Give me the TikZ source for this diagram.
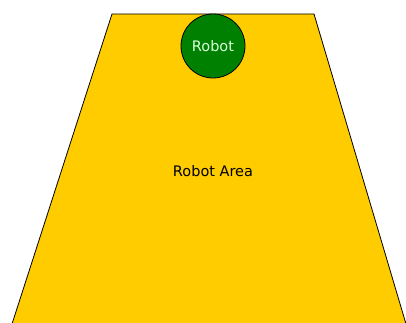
\documentclass[tikz,border=0pt]{standalone}
\usepackage{fontspec}
\setmainfont{DejaVu Sans}
\definecolor{areayellow}{HTML}{FFCC00}
\definecolor{robotgreen}{HTML}{008000}
\definecolor{robottext}{HTML}{D8FFD8}
\begin{document}
\begin{tikzpicture}[x=1pt,y=1pt,
  area/.style={fill=areayellow,draw=black,line width=0.8pt,line join=miter},
  robot/.style={circle,fill=robotgreen,draw=black,line width=0.8pt,minimum size=64pt,inner sep=0pt,text=robottext,font=\fontsize{14.5}{17}\selectfont},
  lbl/.style={font=\fontsize{14.5}{17}\selectfont,text=black}]
\useasboundingbox (0,0) rectangle (406,323);
\coordinate (bl) at (12,-1);
\coordinate (tl) at (112,309);
\coordinate (tr) at (314,309);
\coordinate (br) at (406,-1);
\draw[area] (bl) -- (tl) -- (tr) -- (br);
\node[robot] (robot) at (213,277) {Robot};
\node[lbl] (arealabel) at (213,152) {Robot Area};
\end{tikzpicture}
\end{document}
